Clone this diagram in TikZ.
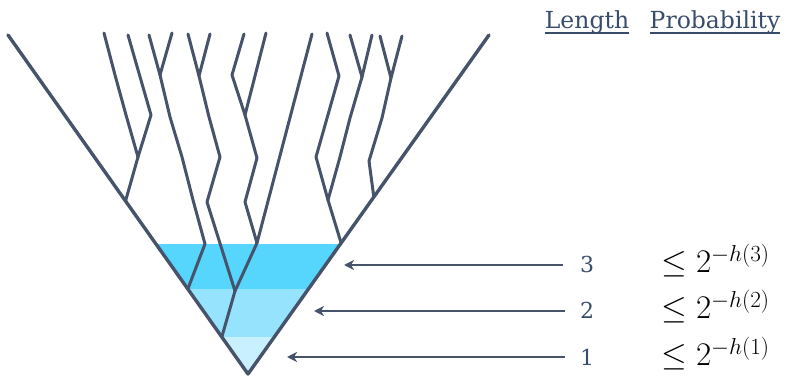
\RequirePackage{fix-cm}
\documentclass[tikz,border=0pt]{standalone}
\usepackage{fontspec}
\newfontfamily\labfont{DejaVu Serif}
\usetikzlibrary{arrows.meta,calc}
\definecolor{lin}{RGB}{70,83,107}
\definecolor{lab}{RGB}{58,76,108}
\definecolor{bandc}{RGB}{86,213,253}
\definecolor{bandb}{RGB}{150,227,254}
\definecolor{banda}{RGB}{200,240,254}
\begin{document}
\begin{tikzpicture}[x=1pt,y=-1pt,
  lineage/.style={draw=lin,line width=3pt,line join=round,line cap=round},
  outer/.style={draw=lin,line width=3.4pt,line join=round,line cap=round},
  arr/.style={draw=lin,line width=1.8pt,-{Stealth[length=10pt,width=10pt,inset=3pt]}},
  heading/.style={text=lab,inner sep=0pt,anchor=base,font=\labfont\fontsize{23.5}{28}\selectfont},
  num/.style={text=lab,inner sep=0pt,anchor=base,font=\labfont\fontsize{22}{27}\selectfont},
  prob/.style={text=black,inner sep=0pt,anchor=base west,font=\fontsize{33}{39}\selectfont}]
\useasboundingbox (0,0) rectangle (785,379);
% outer frame points
\coordinate (tL) at (8,35);
\coordinate (tR) at (489,35);
\coordinate (root) at (248,374);
% shaded bands
\begin{scope}
  \clip (tL) -- (tR) -- (root) -- cycle;
  \fill[bandc] (0,244) rectangle (785,289);
  \fill[bandb] (0,289) rectangle (785,337);
  \fill[banda] (0,337) rectangle (785,380);
\end{scope}
% merge points on the outer lines
\coordinate (mA) at ($(tL)!0.4897!(root)$);
\coordinate (mB) at ($(tL)!0.7493!(root)$);
\coordinate (mC) at ($(tL)!0.8909!(root)$);
\coordinate (mE) at ($(tR)!0.4779!(root)$);
\coordinate (mD) at ($(tR)!0.6136!(root)$);
% tips
\coordinate (t1) at (104,33);
\coordinate (t2) at (128,35);
\coordinate (t3) at (149,35);
\coordinate (t4) at (172,33);
\coordinate (t5) at (188,34);
\coordinate (t6) at (210,34);
\coordinate (t7) at (244,34);
\coordinate (t8) at (266,33);
\coordinate (t9) at (312,34);
\coordinate (t10) at (327,33);
\coordinate (t11) at (350,35);
\coordinate (t12) at (372,35);
\coordinate (t13) at (380,36);
\coordinate (t14) at (402,36);
% inner merges
\coordinate (m12) at (138,157);
\coordinate (m34) at (160,75);
\coordinate (m56) at (199,76);
\coordinate (m78) at (245,115);
\coordinate (m789) at (257,243);
\coordinate (m59) at (235,291);
\coordinate (m1112) at (362,77);
\coordinate (m1012) at (328,200);
\coordinate (m1314) at (391,78);
% outer lines
\draw[outer] (tL) -- (root) -- (tR);
% lineages
\draw[lineage] (t1) -- (115,75) -- (126,115) -- (m12);
\draw[lineage] (t2) -- (151,115) -- (m12);
\draw[lineage] (m12) -- (mA);
\draw[lineage] (t3) -- (m34);
\draw[lineage] (t4) -- (m34);
\draw[lineage] (m34) -- (170,117) -- (182,157) -- (193,200) -- (205,244) -- (mB);
\draw[lineage] (t5) -- (m56);
\draw[lineage] (t6) -- (m56);
\draw[lineage] (m56) -- (209,117) -- (220,157) -- (207,202) -- (m59);
\draw[lineage] (t7) -- (232,75) -- (m78);
\draw[lineage] (t8) -- (m78);
\draw[lineage] (m78) -- (257,158) -- (245,202) -- (m789);
\draw[lineage] (t9) -- (m789);
\draw[lineage] (m789) -- (m59);
\draw[lineage] (m59) -- (mC);
\draw[lineage] (t10) -- (339,76) -- (316,157) -- (m1012);
\draw[lineage] (t11) -- (m1112);
\draw[lineage] (t12) -- (m1112);
\draw[lineage] (m1112) -- (350,118) -- (340,157) -- (m1012);
\draw[lineage] (m1012) -- (mD);
\draw[lineage] (t13) -- (m1314);
\draw[lineage] (t14) -- (m1314);
\draw[lineage] (m1314) -- (382,118) -- (369,161) -- (mE);
% headings
\node[heading] (len) at (587,29) {Length};
\node[heading] (pro) at (715,29) {Probability};
\draw[lab,line width=1.3pt] ([yshift=-4pt]len.base west) -- ([yshift=-4pt]len.base east);
\draw[lab,line width=1.3pt] ([yshift=-4pt]pro.base west) -- ([yshift=-4pt]pro.base east);
% lengths
\node[num] (n3) at (587,273) {3};
\node[num] (n2) at (587,319) {2};
\node[num] (n1) at (587,366) {1};
% probabilities
\node[prob] (p3) at (661,273) {$\le 2^{-h(3)}$};
\node[prob] (p2) at (661,319) {$\le 2^{-h(2)}$};
\node[prob] (p1) at (661,366) {$\le 2^{-h(1)}$};
% arrows
\coordinate (s3) at (563,265);
\coordinate (s2) at (565,311);
\coordinate (s1) at (565,357);
\coordinate (e3) at (344,265);
\coordinate (e2) at (314,311);
\coordinate (e1) at (287,357);
\draw[arr] (s3) -- (e3);
\draw[arr] (s2) -- (e2);
\draw[arr] (s1) -- (e1);
\end{tikzpicture}
\end{document}
